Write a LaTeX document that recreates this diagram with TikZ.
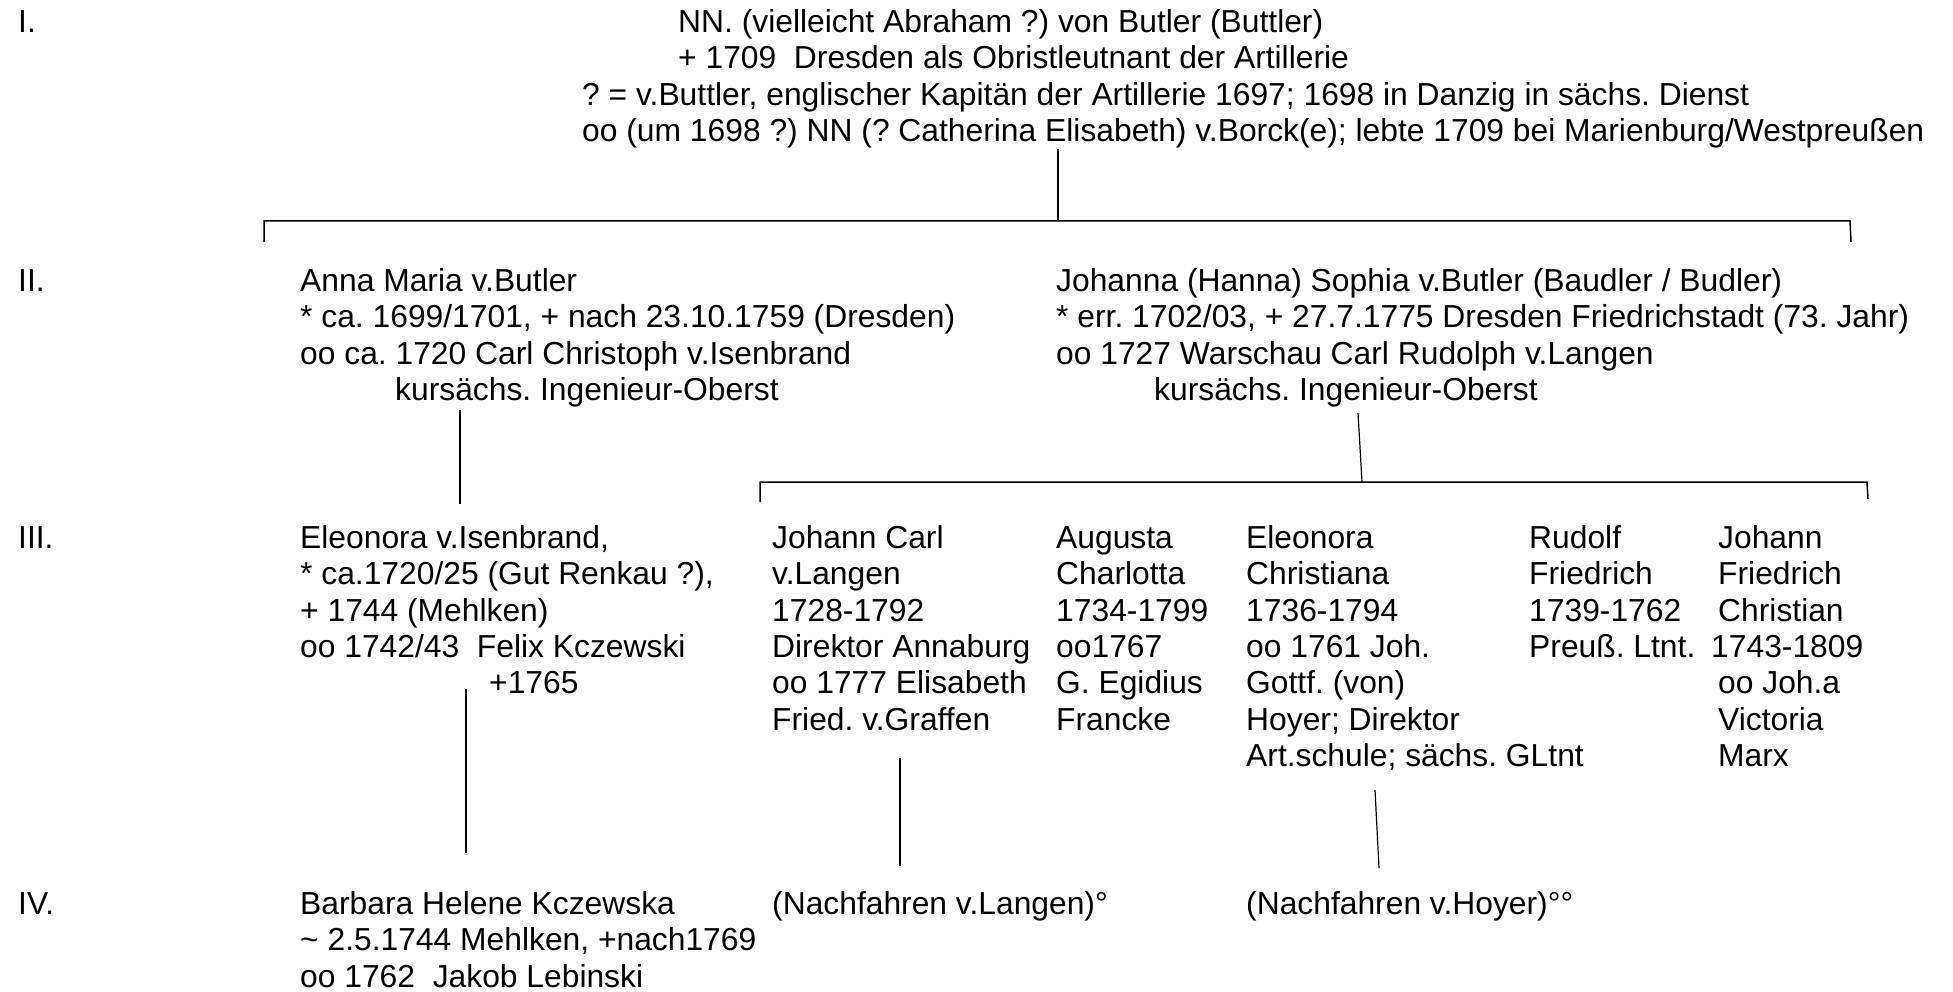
\documentclass[tikz,border=0pt]{standalone}
\usepackage{fontspec}
\setmainfont{Liberation Sans}
\frenchspacing
\begin{document}
\begin{tikzpicture}[x=1pt,y=-1pt,
  txt/.style={anchor=north west,inner sep=0pt,align=left,font=\fontsize{31.8}{36.3}\selectfont\frenchspacing},
  conn/.style={line width=1.2pt},
  bar/.style={line width=1.5pt}]
\useasboundingbox (0,0) rectangle (1953,992);
% generation labels
\node[txt] (lI) at (18,7) {\strut I.};
\node[txt] (lII) at (18,266) {\strut II.};
\node[txt] (lIII) at (18,523) {\strut III.};
\node[txt] (lIV) at (18,889) {\strut IV.};
% generation I
\node[txt] (gen1) at (582,7) {\strut\hspace*{96pt}NN. (vielleicht Abraham ?) von Butler (Buttler)\\
 \strut\hspace*{96pt}+ 1709\ \ Dresden als Obristleutnant der Artillerie\\
 \strut ? = v.Buttler, englischer Kapitän der Artillerie 1697; 1698 in Danzig in sächs. Dienst\\
 \strut oo (um 1698 ?) NN (? Catherina Elisabeth) v.Borck(e); lebte 1709 bei Marienburg/Westpreußen};
% generation II
\node[txt] (anna) at (300,266) {\strut Anna Maria v.Butler\\
 \strut * ca. 1699/1701, + nach 23.10.1759 (Dresden)\\
 \strut oo ca. 1720 Carl Christoph v.Isenbrand\\
 \strut\hspace*{95pt}kursächs. Ingenieur-Oberst};
\node[txt] (johanna) at (1056,266) {\strut Johanna (Hanna) Sophia v.Butler (Baudler / Budler)\\
 \strut * err. 1702/03, + 27.7.1775 Dresden Friedrichstadt (73. Jahr)\\
 \strut oo 1727 Warschau Carl Rudolph v.Langen\\
 \strut\hspace*{98pt}kursächs. Ingenieur-Oberst};
% generation III
\node[txt] (eleoI) at (300,523) {\strut Eleonora v.Isenbrand,\\
 \strut * ca.1720/25 (Gut Renkau ?),\\
 \strut + 1744 (Mehlken)\\
 \strut oo 1742/43\ \ Felix Kczewski\\
 \strut\hspace*{189pt}+1765};
\node[txt] (jc) at (772,523) {\strut Johann Carl\\ \strut v.Langen\\ \strut 1728-1792\\ \strut Direktor Annaburg\\ \strut oo 1777 Elisabeth\\ \strut Fried. v.Graffen};
\node[txt] (ac) at (1056,523) {\strut Augusta\\ \strut Charlotta\\ \strut 1734-1799\\ \strut oo1767\\ \strut G. Egidius\\ \strut Francke};
\node[txt] (ec) at (1246,523) {\strut Eleonora\\ \strut Christiana\\ \strut 1736-1794\\ \strut oo 1761 Joh.\\ \strut Gottf. (von)\\ \strut Hoyer; Direktor\\ \strut Art.schule; sächs. GLtnt};
\node[txt] (rf) at (1529,523) {\strut Rudolf\\ \strut Friedrich\\ \strut 1739-1762\\ \strut Preuß. Ltnt.};
\node[txt] (jf) at (1718,523) {\strut Johann\\ \strut Friedrich\\ \strut Christian\\ \strut\hspace*{-7pt}1743-1809\\ \strut oo Joh.a\\ \strut Victoria\\ \strut Marx};
% generation IV
\node[txt] (barbara) at (300,889) {\strut Barbara Helene Kczewska\\
 \strut\textasciitilde{} 2.5.1744 Mehlken, +nach1769\\
 \strut oo 1762\ \ Jakob Lebinski};
\node[txt] (nl) at (772,889) {\strut (Nachfahren v.Langen)°};
\node[txt] (nh) at (1246,889) {\strut (Nachfahren v.Hoyer)°°};
% connector points
\coordinate (d1a) at (1058,149);
\coordinate (d1b) at (1058,221);
\coordinate (b1l) at (264,221);
\coordinate (b1lt) at (264,242);
\coordinate (b1r) at (1850,221);
\coordinate (b1rt) at (1851,242);
\coordinate (d2a) at (460,410);
\coordinate (d2b) at (460,504);
\coordinate (d3a) at (1358,413);
\coordinate (d3b) at (1362,482);
\coordinate (b2l) at (760,482);
\coordinate (b2lt) at (760,502);
\coordinate (b2r) at (1867,482);
\coordinate (b2rt) at (1868,499);
\coordinate (d4a) at (466,689);
\coordinate (d4b) at (466,853);
\coordinate (d5a) at (900,758);
\coordinate (d5b) at (900,866);
\coordinate (d6a) at (1375,790);
\coordinate (d6b) at (1379,868);
% connectors
\draw[conn] (d1a) -- (d1b);
\draw[bar] (b1lt) -- (b1l) -- (b1r) -- (b1rt);
\draw[conn] (d2a) -- (d2b);
\draw[conn] (d3a) -- (d3b);
\draw[bar] (b2lt) -- (b2l) -- (b2r) -- (b2rt);
\draw[conn] (d4a) -- (d4b);
\draw[conn] (d5a) -- (d5b);
\draw[conn] (d6a) -- (d6b);
\end{tikzpicture}
\end{document}
